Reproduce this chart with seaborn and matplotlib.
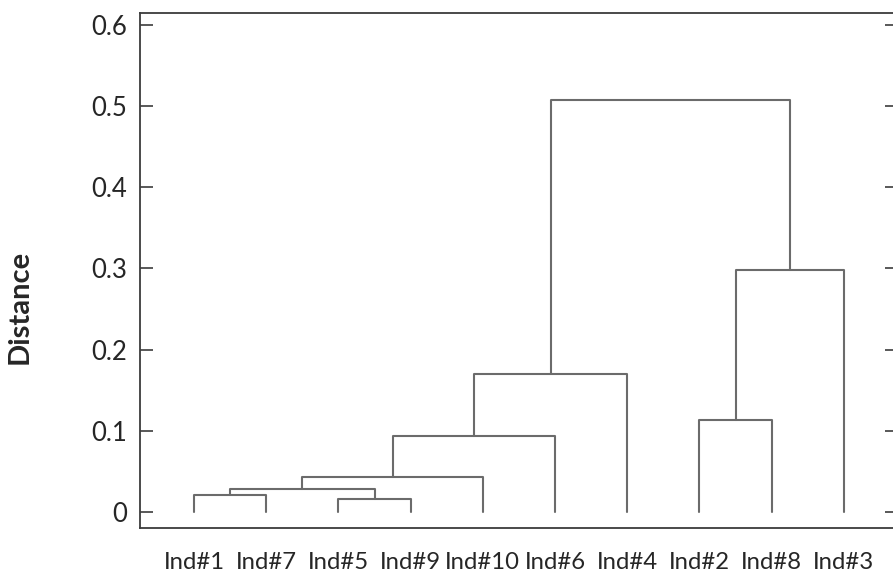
import pandas as pd
import numpy as np
import matplotlib.pyplot as plt
import seaborn as sns

# Leaf order along the x axis
leaves = ["Ind#1", "Ind#7", "Ind#5", "Ind#9", "Ind#10", "Ind#6", "Ind#4", "Ind#2", "Ind#8", "Ind#3"]

# Merges: new cluster name, left child, right child, merge distance
merge_name = ["c1", "c2", "c3", "c4", "c5", "c6", "c7", "c8", "c9"]
merge_left = ["Ind#1", "Ind#5", "c1", "c3", "c4", "c5", "Ind#2", "c7", "c6"]
merge_right = ["Ind#7", "Ind#9", "c2", "Ind#10", "Ind#6", "Ind#4", "Ind#8", "Ind#3", "c8"]
merge_height = [0.021, 0.016, 0.028, 0.043, 0.094, 0.170, 0.113, 0.298, 0.508]

y_ticks = [0, 0.1, 0.2, 0.3, 0.4, 0.5, 0.6]
y_tick_labels = ["0", "0.1", "0.2", "0.3", "0.4", "0.5", "0.6"]

# Build the U-shaped links of the dendrogram
pos = {name: (i, 0.0) for i, name in enumerate(leaves)}
rows = []
for k, name in enumerate(merge_name):
    xl, yl = pos[merge_left[k]]
    xr, yr = pos[merge_right[k]]
    h = merge_height[k]
    for order, (x, y) in enumerate([(xl, yl), (xl, h), (xr, h), (xr, yr)]):
        rows.append({"link": name, "order": order, "x": x, "y": y})
    pos[name] = ((xl + xr) / 2, h)
links = pd.DataFrame(rows)

sns.set_style("white")
plt.rcParams["font.family"] = ["Lato", "DejaVu Sans"]

fig = plt.figure(figsize=(8.93, 5.84), dpi=100)
ax = fig.add_axes([140 / 893, 1 - 528 / 584, 758 / 893, 515 / 584])

sns.lineplot(data=links, x="x", y="y", units="link", estimator=None, sort=False,
             color="#6b6b6b", linewidth=1.5, legend=False, ax=ax)

ax.set_xlim(-0.748, 9.75)
ax.set_ylim(-0.02, 0.615)

ax.set_xticks(range(len(leaves)))
ax.set_xticklabels(leaves)
ax.set_yticks(y_ticks)
ax.set_yticklabels(y_tick_labels)

ax.tick_params(axis="x", length=0, pad=17, labelsize=17.2, labelcolor="#262626")
ax.tick_params(axis="y", direction="in", length=9.5, width=1.2, color="#3c3c3c",
               pad=9, labelsize=18.5, labelcolor="#262626", left=True, right=True)

for side in ["left", "right", "top", "bottom"]:
    ax.spines[side].set_color("#3c3c3c")
    ax.spines[side].set_linewidth(1.3)

ax.set_xlabel("")
ax.set_ylabel("Distance", fontsize=21, fontweight="bold", color="#262626")
ax.yaxis.set_label_coords(-0.141, 0.43)

plt.savefig("out.png", dpi=100)
